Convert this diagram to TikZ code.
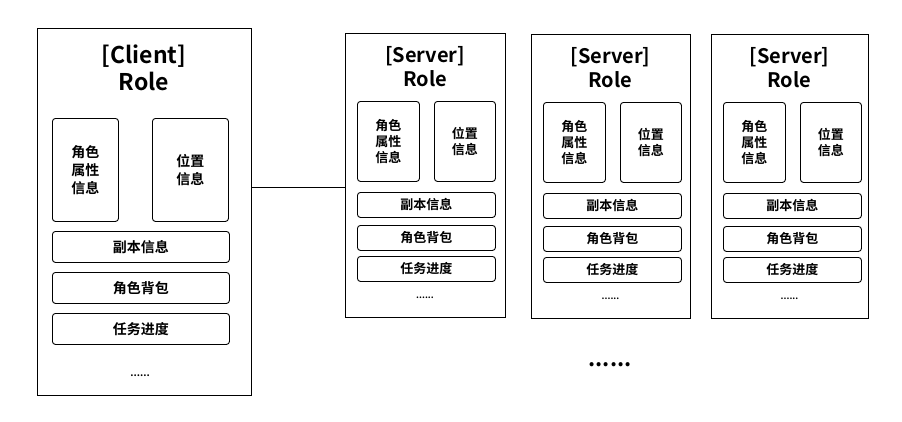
\documentclass[tikz,border=0pt]{standalone}
\usepackage{fontspec}
\setmainfont{Noto Sans CJK SC}[BoldFont={* Bold}]
\begin{document}
\begin{tikzpicture}[x=1pt,y=-1pt,
 outer/.style={draw,line width=1pt,anchor=north west,inner sep=0pt},
 inbox/.style={draw,line width=0.9pt,rounded corners=3pt,anchor=north west,inner sep=0pt,font=\bfseries,align=center},
 ttl/.style={font=\bfseries,align=center}]
\useasboundingbox (0,0) rectangle (902,421);
% client
\node[outer,minimum width=214,minimum height=367] (c) at (37,28) {};
\node[ttl,font=\bfseries\fontsize{23}{27}\selectfont] (ct) at (144,68) {[Client]\\Role};
\node[inbox,minimum width=66,minimum height=103,font=\bfseries\fontsize{14}{18}\selectfont] (c1) at (52,118) {角色\\属性\\信息};
\node[inbox,minimum width=76,minimum height=103,font=\bfseries\fontsize{14}{18}\selectfont] (c2) at (152,118) {位置\\信息};
\node[inbox,minimum width=177,minimum height=31,font=\bfseries\fontsize{14}{18}\selectfont] (c3) at (52,231) {副本信息};
\node[inbox,minimum width=177,minimum height=31,font=\bfseries\fontsize{14}{18}\selectfont] (c4) at (52,272) {角色背包};
\node[inbox,minimum width=177,minimum height=31,font=\bfseries\fontsize{14}{18}\selectfont] (c5) at (52,313) {任务进度};
\node[font=\bfseries] (cd) at (140,376) {......};
% servers
\foreach \n/\x/\y/\w in {s1/345/33/160, s2/531/34/159, s3/711/34/157}{
 \node[outer,minimum width=\w,minimum height=284] (\n) at (\x,\y) {};
 \node[ttl,font=\bfseries\fontsize{20}{24}\selectfont] (\n t) at (\x+\w/2,\y+34) {[Server]\\Role};
 \node[inbox,minimum width=62,minimum height=80,font=\bfseries\fontsize{13}{16}\selectfont] (\n a) at (\x+12,\y+68) {角色\\属性\\信息};
 \node[inbox,minimum width=61,minimum height=80,font=\bfseries\fontsize{13}{16}\selectfont] (\n b) at (\x+89,\y+68) {位置\\信息};
 \node[inbox,minimum width=138,minimum height=25,font=\bfseries\fontsize{13}{16}\selectfont] (\n c) at (\x+12,\y+159) {副本信息};
 \node[inbox,minimum width=138,minimum height=25,font=\bfseries\fontsize{13}{16}\selectfont] (\n d) at (\x+12,\y+192) {角色背包};
 \node[inbox,minimum width=138,minimum height=25,font=\bfseries\fontsize{13}{16}\selectfont] (\n e) at (\x+12,\y+223) {任务进度};
 \node[font=\bfseries\small] (\n f) at (\x+\w/2,\y+265) {......};
}
\draw[line width=1pt] (c.east|-0,187) -- (s1.west|-0,187);
\node[font=\bfseries\fontsize{22}{24}\selectfont] (dots) at (610,365) {......};
\end{tikzpicture}
\end{document}
